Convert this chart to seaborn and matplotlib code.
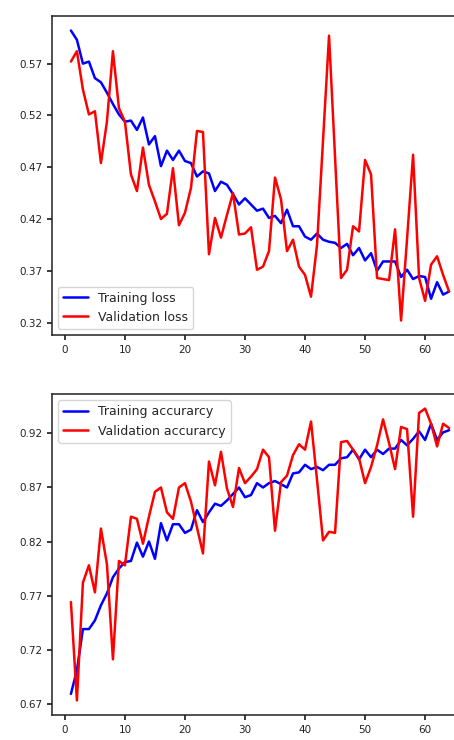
import numpy as np
import pandas as pd
import matplotlib
matplotlib.use("Agg")
import matplotlib.pyplot as plt
import seaborn as sns

epochs = list(range(1, 65))

train_loss = [0.602, 0.593, 0.570, 0.572, 0.556, 0.552, 0.542, 0.531, 0.521, 0.514,
              0.515, 0.506, 0.518, 0.492, 0.500, 0.471, 0.486, 0.477, 0.486, 0.476,
              0.474, 0.461, 0.466, 0.464, 0.447, 0.456, 0.453, 0.444, 0.434, 0.440,
              0.434, 0.428, 0.430, 0.421, 0.423, 0.416, 0.429, 0.413, 0.413, 0.403,
              0.400, 0.406, 0.400, 0.398, 0.397, 0.392, 0.396, 0.385, 0.392, 0.380,
              0.387, 0.370, 0.379, 0.379, 0.379, 0.364, 0.371, 0.362, 0.365, 0.364,
              0.343, 0.359, 0.347, 0.350]
val_loss = [0.572, 0.582, 0.545, 0.521, 0.524, 0.474, 0.514, 0.582, 0.527, 0.514,
            0.463, 0.447, 0.489, 0.453, 0.437, 0.420, 0.425, 0.469, 0.414, 0.426,
            0.450, 0.505, 0.504, 0.386, 0.421, 0.402, 0.424, 0.445, 0.405, 0.406,
            0.412, 0.371, 0.374, 0.389, 0.460, 0.439, 0.389, 0.400, 0.374, 0.366,
            0.345, 0.395, 0.496, 0.597, 0.480, 0.363, 0.371, 0.413, 0.408, 0.477,
            0.463, 0.363, 0.362, 0.361, 0.410, 0.322, 0.401, 0.482, 0.363, 0.341,
            0.376, 0.384, 0.366, 0.350]
train_acc = [0.679, 0.701, 0.739, 0.739, 0.747, 0.761, 0.772, 0.787, 0.795, 0.801,
             0.802, 0.819, 0.806, 0.820, 0.804, 0.837, 0.821, 0.836, 0.836, 0.828,
             0.831, 0.849, 0.838, 0.847, 0.855, 0.853, 0.858, 0.864, 0.870, 0.861,
             0.863, 0.874, 0.870, 0.874, 0.876, 0.873, 0.870, 0.883, 0.884, 0.891,
             0.887, 0.889, 0.886, 0.891, 0.891, 0.897, 0.898, 0.905, 0.896, 0.905,
             0.898, 0.905, 0.901, 0.906, 0.906, 0.914, 0.909, 0.915, 0.922, 0.914,
             0.929, 0.914, 0.921, 0.923]
val_acc = [0.764, 0.673, 0.782, 0.798, 0.773, 0.832, 0.799, 0.711, 0.802, 0.798,
           0.843, 0.841, 0.818, 0.843, 0.866, 0.870, 0.847, 0.841, 0.870, 0.874,
           0.857, 0.833, 0.809, 0.894, 0.872, 0.903, 0.869, 0.852, 0.888, 0.874,
           0.880, 0.887, 0.905, 0.898, 0.830, 0.875, 0.881, 0.900, 0.910, 0.905,
           0.931, 0.877, 0.821, 0.829, 0.828, 0.912, 0.913, 0.905, 0.897, 0.874,
           0.889, 0.909, 0.933, 0.911, 0.887, 0.926, 0.924, 0.843, 0.939, 0.943,
           0.929, 0.908, 0.929, 0.925]

loss_yticks = [0.32, 0.37, 0.42, 0.47, 0.52, 0.57]
acc_yticks = [0.67, 0.72, 0.77, 0.82, 0.87, 0.92]
xticks = [0, 10, 20, 30, 40, 50, 60]

sns.set_theme(style="ticks")
plt.rcParams['font.family'] = ['DejaVu Sans']
plt.rcParams.update({
    'axes.edgecolor': '#222222',
    'axes.linewidth': 1.1,
    'xtick.labelsize': 7.5,
    'ytick.labelsize': 7.5,
    'xtick.major.size': 3.5,
    'ytick.major.size': 3.5,
    'xtick.color': '#222222',
    'ytick.color': '#222222',
})

fig = plt.figure(figsize=(4.54, 7.40), dpi=100)
ax1 = fig.add_axes([52/454, (740-335)/740, 416/454, 319/740])
ax2 = fig.add_axes([52/454, (740-715)/740, 416/454, 321/740])

df_loss = pd.DataFrame({'epoch': epochs, 'train': train_loss, 'val': val_loss})
df_acc = pd.DataFrame({'epoch': epochs, 'train': train_acc, 'val': val_acc})

sns.lineplot(data=df_loss, x='epoch', y='train', color='#0000ff', lw=1.8,
             label='Training loss', ax=ax1)
sns.lineplot(data=df_loss, x='epoch', y='val', color='#ff0000', lw=1.8,
             label='Validation loss', ax=ax1)
sns.lineplot(data=df_acc, x='epoch', y='train', color='#0000ff', lw=1.8,
             label='Training accurarcy', ax=ax2)
sns.lineplot(data=df_acc, x='epoch', y='val', color='#ff0000', lw=1.8,
             label='Validation accurarcy', ax=ax2)

for ax, yt in ((ax1, loss_yticks), (ax2, acc_yticks)):
    ax.set_xlabel('')
    ax.set_ylabel('')
    ax.set_xticks(xticks)
    ax.set_yticks(yt)
    ax.set_yticklabels([f"{v:.2f}" for v in yt])
    ax.set_xlim(-2.15, 67.15)
    ax.grid(False)

ax1.set_ylim(0.308, 0.616)
ax2.set_ylim(0.6595, 0.9565)

ax1.legend(loc='lower left', fontsize=9, frameon=True, handlelength=2.0)
ax2.legend(loc='upper left', fontsize=9, frameon=True, handlelength=2.0)

fig.savefig('out.png', dpi=100)
